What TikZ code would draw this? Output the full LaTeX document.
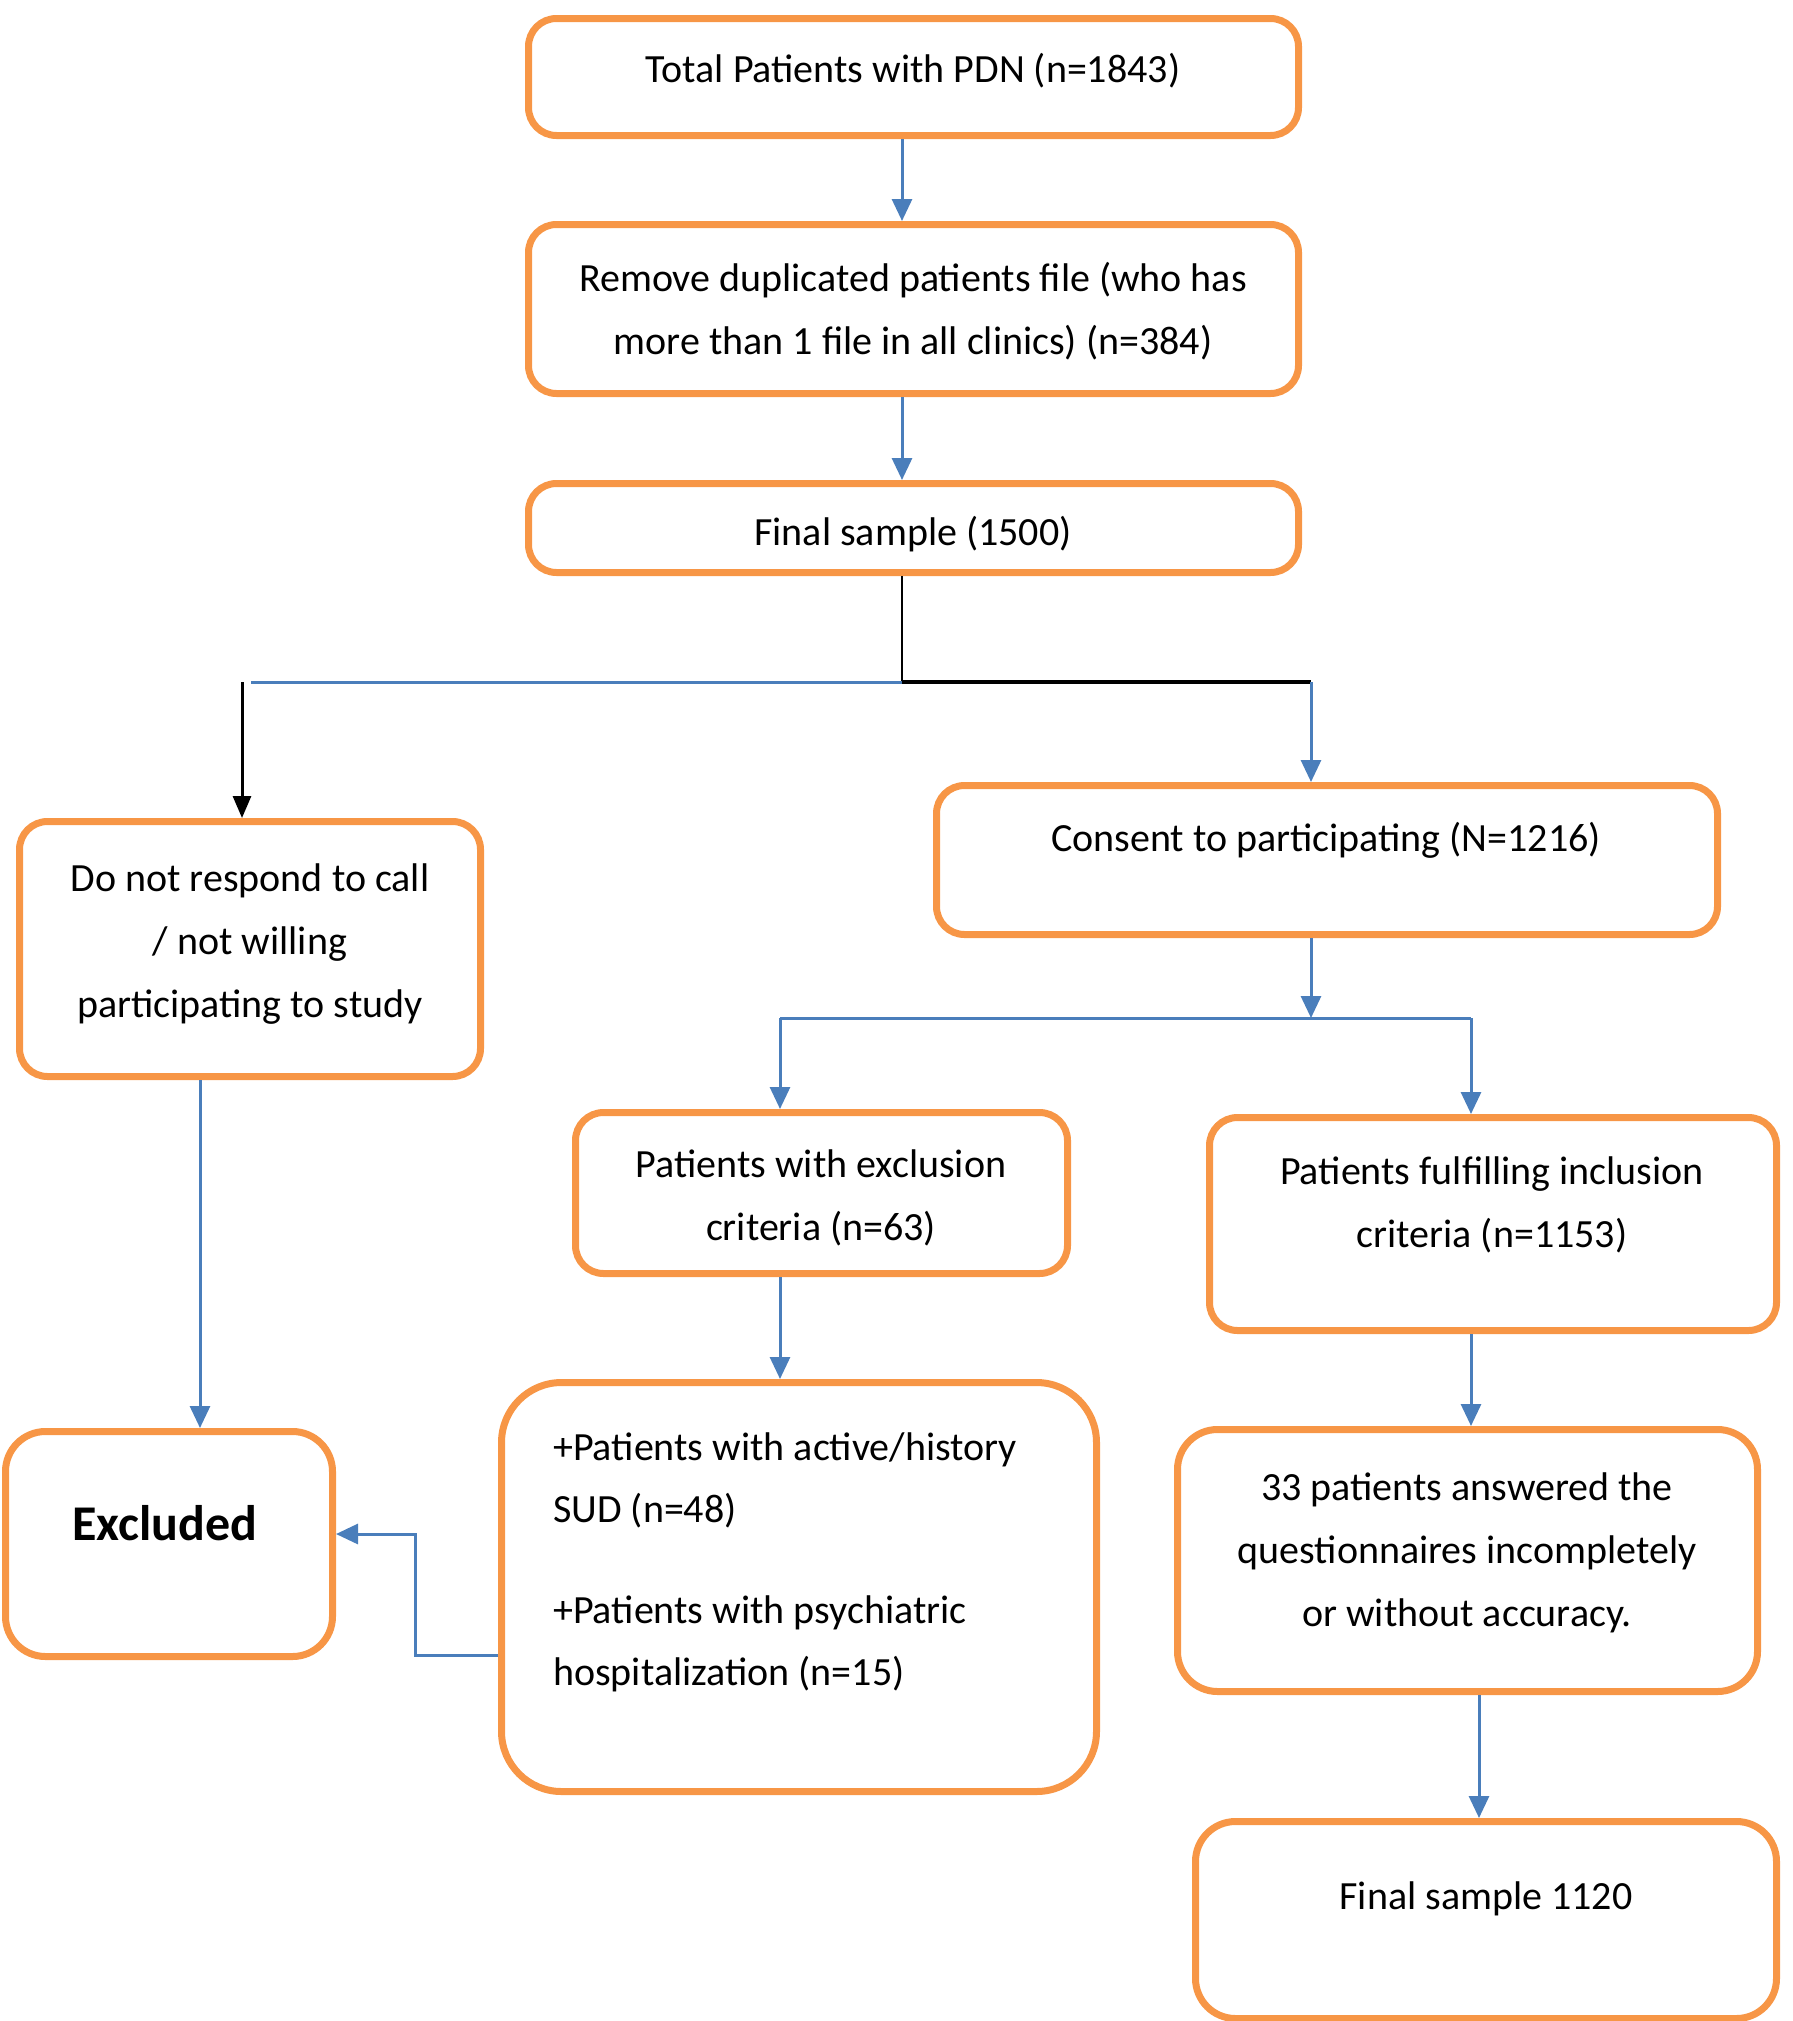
\documentclass[tikz,border=0pt]{standalone}
\usepackage{fontspec}
\setmainfont{Carlito}
\usetikzlibrary{arrows.meta}
\definecolor{boxorange}{HTML}{F79646}
\definecolor{lineblue}{HTML}{4A7EBB}
\begin{document}
\begin{tikzpicture}[x=1pt,y=-1pt,
  box/.style={draw=boxorange, line width=7pt, rounded corners=28pt, inner sep=0pt, anchor=north west},
  txt/.style={font=\fontsize{40}{63}\selectfont, align=center, inner sep=0pt},
  txtl/.style={font=\fontsize{40}{62}\selectfont, align=left, inner sep=0pt, anchor=west},
  arr/.style={draw=lineblue, line width=3pt, -{Triangle[width=20pt,length=22pt]}},
  bline/.style={draw=lineblue, line width=3pt},
  karr/.style={draw=black, line width=3pt, -{Triangle[width=18pt,length=22pt]}},
  kline/.style={draw=black, line width=2.5pt}]
\useasboundingbox (0,0) rectangle (1793,2021);

% boxes
\node[box, minimum width=770pt, minimum height=117pt] (b1) at (525,15) {};
\node[box, minimum width=770pt, minimum height=169pt] (b2) at (525,221) {};
\node[box, minimum width=770pt, minimum height=89pt]  (b3) at (525,480) {};
\node[box, minimum width=461pt, minimum height=255pt] (b4) at (16,818) {};
\node[box, minimum width=781pt, minimum height=149pt] (b5) at (933,782) {};
\node[box, minimum width=492pt, minimum height=161pt] (b6) at (572,1109) {};
\node[box, minimum width=567pt, minimum height=213pt] (b7) at (1206,1114) {};
\node[box, minimum width=595pt, minimum height=409pt, rounded corners=60pt] (b8) at (498,1379) {};
\node[box, minimum width=327pt, minimum height=225pt, rounded corners=40pt] (b9) at (2,1428) {};
\node[box, minimum width=580pt, minimum height=262pt, rounded corners=40pt] (b10) at (1174,1426) {};
\node[box, minimum width=581pt, minimum height=197pt, rounded corners=40pt] (b11) at (1192,1818) {};

% texts
\node[txt] (t1) at (913,71) {Total Patients with PDN (n=1843)};
\node[txt] (t2) at (913,311) {Remove duplicated patients file (who has\\more than 1 file in all clinics) (n=384)};
\node[txt] (t3) at (913,534) {Final sample (1500)};
\node[txt] (t4) at (250,944) {Do not respond to call\\/ not willing\\participating to study};
\node[txt] (t5) at (1326,840) {Consent to participating (N=1216)};
\node[txt] (t6) at (821,1198) {Patients with exclusion\\criteria (n=63)};
\node[txt] (t7) at (1492,1205) {Patients fulfilling inclusion\\criteria (n=1153)};
\node[txtl] (t8a) at (553,1480) {+Patients with active/history\\SUD (n=48)};
\node[txtl] (t8b) at (553,1644) {+Patients with psychiatric\\hospitalization (n=15)};
\node[txt, font=\fontsize{50}{60}\bfseries\selectfont] (t9) at (165,1523) {Excluded};
\node[txt] (t10) at (1467,1553) {33 patients answered the\\questionnaires incompletely\\or without accuracy.};
\node[txt] (t11) at (1486,1899) {Final sample 1120};

% column coordinates
\coordinate (c1) at (902,0);
\coordinate (cl) at (242,0);
\coordinate (cx) at (200,0);
\coordinate (cr) at (1311,0);
\coordinate (c6) at (780,0);
\coordinate (c7) at (1471,0);
\coordinate (c11) at (1479,0);
\coordinate (s1) at (902,682);
\coordinate (sL) at (251,682);
\coordinate (sR) at (1311,682);
\coordinate (s2) at (1311,1018);
\coordinate (s2L) at (780,1018);
\coordinate (s2R) at (1471,1018);
\coordinate (e1) at (415,1655);
\coordinate (e2) at (415,1534);

% connectors
\draw[arr] (b1.south -| c1) -- (b2.north -| c1);
\draw[arr] (b2.south -| c1) -- (b3.north -| c1);
\draw[kline, line width=2pt] (b3.south -| c1) -- (s1);
\draw[bline] (s1) -- (sL);
\draw[kline, line width=4pt] (s1) -- (sR);
\draw[karr] (sL -| cl) -- (b4.north -| cl);
\draw[arr] (sR) -- (b5.north -| cr);
\draw[arr] (b5.south -| cr) -- (s2);
\draw[bline] (s2L) -- (s2R);
\draw[arr] (s2L) -- (b6.north -| c6);
\draw[arr] (s2R) -- (b7.north -| c7);
\draw[arr] (b6.south -| c6) -- (b8.north -| c6);
\draw[arr] (b4.south -| cx) -- (b9.north -| cx);
\draw[arr] (b8.west |- e1) -- (e1) -- (e2) -- (b9.east |- e2);
\draw[arr] (b7.south -| c7) -- (b10.north -| c7);
\draw[arr] (b10.south -| c11) -- (b11.north -| c11);
\end{tikzpicture}
\end{document}
